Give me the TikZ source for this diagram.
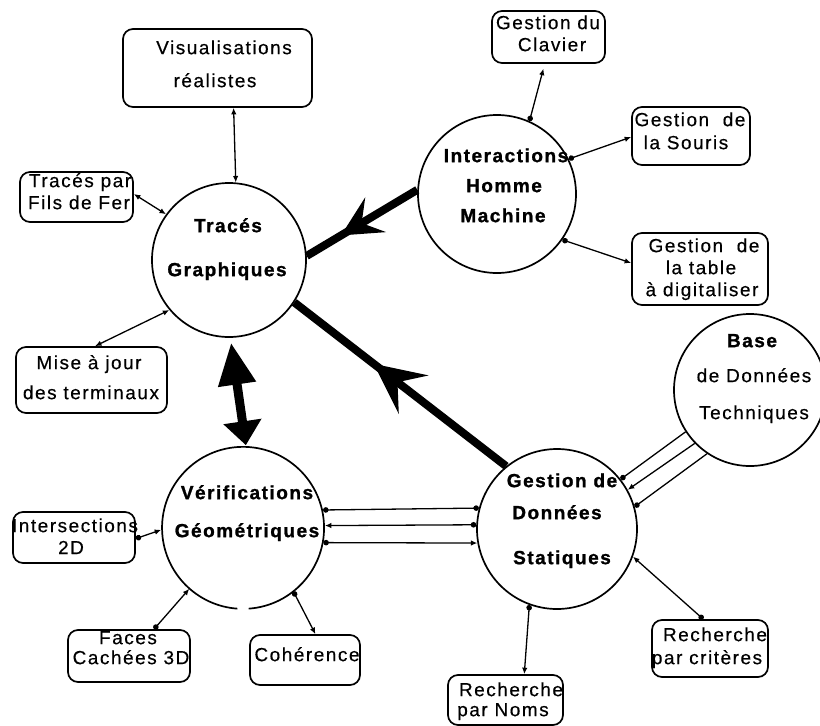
\documentclass[tikz,border=0pt]{standalone}
\usepackage{fontspec}
\newfontfamily\boxfont[LetterSpace=8, UprightFeatures={FakeBold=0.4}, BoldFeatures={FakeBold=1.2}]{Liberation Sans}
\usetikzlibrary{arrows.meta,decorations.markings}

\tikzset{
  ring/.style={circle, draw, line width=1.7pt, inner sep=0pt},
  boxn/.style={draw, rounded corners=10pt, line width=1.7pt, inner sep=0pt},
  lbl/.style={font={\boxfont\fontsize{19pt}{22pt}\selectfont}, anchor=mid, inner sep=0pt},
  blbl/.style={font={\boxfont\bfseries\fontsize{19pt}{22pt}\selectfont}, anchor=mid, inner sep=0pt},
  link/.style={line width=1.3pt},
  flow/.style={line width=8pt},
  sm/.tip={Latex[length=6.5pt,width=5.5pt]},
  dt/.tip={Circle[length=5.5pt]},
}

\begin{document}
\begin{tikzpicture}[x=1pt,y=-1pt]
\useasboundingbox (0,0) rectangle (820,726);
\clip (0,0) rectangle (820,726);

% main modules
\node[ring, minimum size=154pt] (trac) at (229,260) {};
\node[ring, minimum size=158pt] (ihm) at (497,194) {};
\node[ring, minimum size=152pt] (bdt) at (750,390) {};
\node[ring, draw=none, minimum size=162pt] (verif) at (243,527) {};
\draw[line width=1.7pt] (verif.-86) arc[start angle=-86, end angle=266, radius=81pt];
\node[ring, minimum size=160pt] (gds) at (557,529) {};

% satellite boxes
\node[boxn, minimum width=189pt, minimum height=78pt] (visu) at (217.5,68) {};
\node[boxn, minimum width=113pt, minimum height=50pt] (fils) at (76.5,197) {};
\node[boxn, minimum width=151pt, minimum height=66pt] (mise) at (91.5,380) {};
\node[boxn, minimum width=113pt, minimum height=52pt] (clav) at (548.5,37) {};
\node[boxn, minimum width=118pt, minimum height=58pt] (sour) at (691,136) {};
\node[boxn, minimum width=136pt, minimum height=72pt] (tabl) at (700,269) {};
\node[boxn, minimum width=122pt, minimum height=51pt] (inter) at (74,537.5) {};
\node[boxn, minimum width=122pt, minimum height=52pt] (faces) at (129,656) {};
\node[boxn, minimum width=110pt, minimum height=50pt] (coher) at (305,660) {};
\node[boxn, minimum width=116pt, minimum height=57pt] (crit) at (710,648.5) {};
\node[boxn, minimum width=115pt, minimum height=50pt] (noms) at (505.5,700) {};

% labels of the modules
\node[blbl] (tracA) at (228,230) {Tracés};
\node[blbl] (tracB) at (227,274) {Graphiques};
\node[blbl] (ihmA) at (506,160) {Interactions};
\node[blbl] (ihmB) at (504,190) {Homme};
\node[blbl] (ihmC) at (503,220) {Machine};
\node[blbl] (bdtA) at (752,345) {Base};
\node[lbl] (bdtB) at (754,380) {de Données};
\node[lbl] (bdtC) at (754,417) {Techniques};
\node[blbl] (verifA) at (247,497) {Vérifications};
\node[blbl] (verifB) at (247,535) {Géométriques};
\node[blbl] (gdsA) at (562,485) {Gestion de};
\node[blbl] (gdsB) at (557,517) {Données};
\node[blbl] (gdsC) at (562,562) {Statiques};

% labels of the boxes
\node[lbl] (visuA) at (224,52) {Visualisations};
\node[lbl] (visuB) at (215,85) {réalistes};
\node[lbl] (filsA) at (80,185) {Tracés par};
\node[lbl] (filsB) at (79,207) {Fils de Fer};
\node[lbl] (miseA) at (89,367) {Mise à jour};
\node[lbl] (miseB) at (91,397) {des terminaux};
\node[lbl] (clavA) at (548,27) {Gestion du};
\node[lbl] (clavB) at (552,49) {Clavier};
\node[lbl] (sourA) at (690,124) {Gestion\ \ de};
\node[lbl] (sourB) at (686,147) {la Souris};
\node[lbl] (tablA) at (704,250) {Gestion\ \ de};
\node[lbl] (tablB) at (701,272) {la table};
\node[lbl] (tablC) at (702,294) {à digitaliser};
\node[lbl] (interA) at (75,530) {Intersections};
\node[lbl] (interB) at (71,552) {2D};
\node[lbl] (facesA) at (128,642) {Faces};
\node[lbl] (facesB) at (131,662) {Cachées 3D};
\node[lbl] (coherA) at (307,659) {Cohérence};
\node[lbl] (critA) at (715,639) {Recherche};
\node[lbl] (critB) at (707,662) {par critères};
\node[lbl] (nomsA) at (511,694) {Recherche};
\node[lbl] (nomsB) at (503,714) {par Noms};

% thin links between boxes and modules
\draw[link, sm-sm] (visu.-68) -- (trac.85);
\draw[link, sm-sm] (fils.3) -- (trac.144);
\draw[link, sm-sm] (mise.84) -- (trac.220);
\draw[link, sm-dt, shorten <=5pt] (clav.-98) -- (ihm.66);
\draw[link, sm-dt] (sour.181) -- (ihm.26);
\draw[link, sm-dt] (tabl.175) -- (ihm.-35);
\draw[link, dt-sm] (inter.-1) -- (verif.182);
\draw[link, dt-sm] (faces.47) -- (verif.229.4);
\draw[link, sm-dt] (coher.68) -- (verif.-52.4);
\draw[link, sm-dt] (noms.54) -- (gds.-110);
\draw[link, dt-sm] (crit.103) -- (gds.-20);

% triple links
\draw[link, dt-dt] (verif.12.8) -- (gds.165.5);
\draw[link, sm-dt] (verif.1.4) -- (gds.177);
\draw[link, dt-sm] (verif.-11.4) -- (gds.190);
\draw[link, -dt] (bdt.213) -- (gds.38.7);
\draw[link, -sm] (bdt.224) -- (gds.29.3);
\draw[link, -dt] (bdt.236) -- (gds.16.4);

% heavy flows
\draw[flow, postaction={decorate}, decoration={markings,
  mark=at position 0.69 with {\arrow{Stealth[length=40pt,width=40pt,inset=16pt]}}}]
  (ihm.177) -- (trac.3.7);
\draw[flow, postaction={decorate}, decoration={markings,
  mark=at position 0.625 with {\arrow{Stealth[length=50pt,width=48pt,inset=20pt]}}}]
  (gds.129.3) -- (trac.-33.3);
\draw[line width=9pt, {Triangle[length=42pt,width=36pt]}-{Triangle[length=24pt,width=37pt]}, shorten <=5pt]
  (trac.-89) -- (verif.88.6);
\end{tikzpicture}
\end{document}
